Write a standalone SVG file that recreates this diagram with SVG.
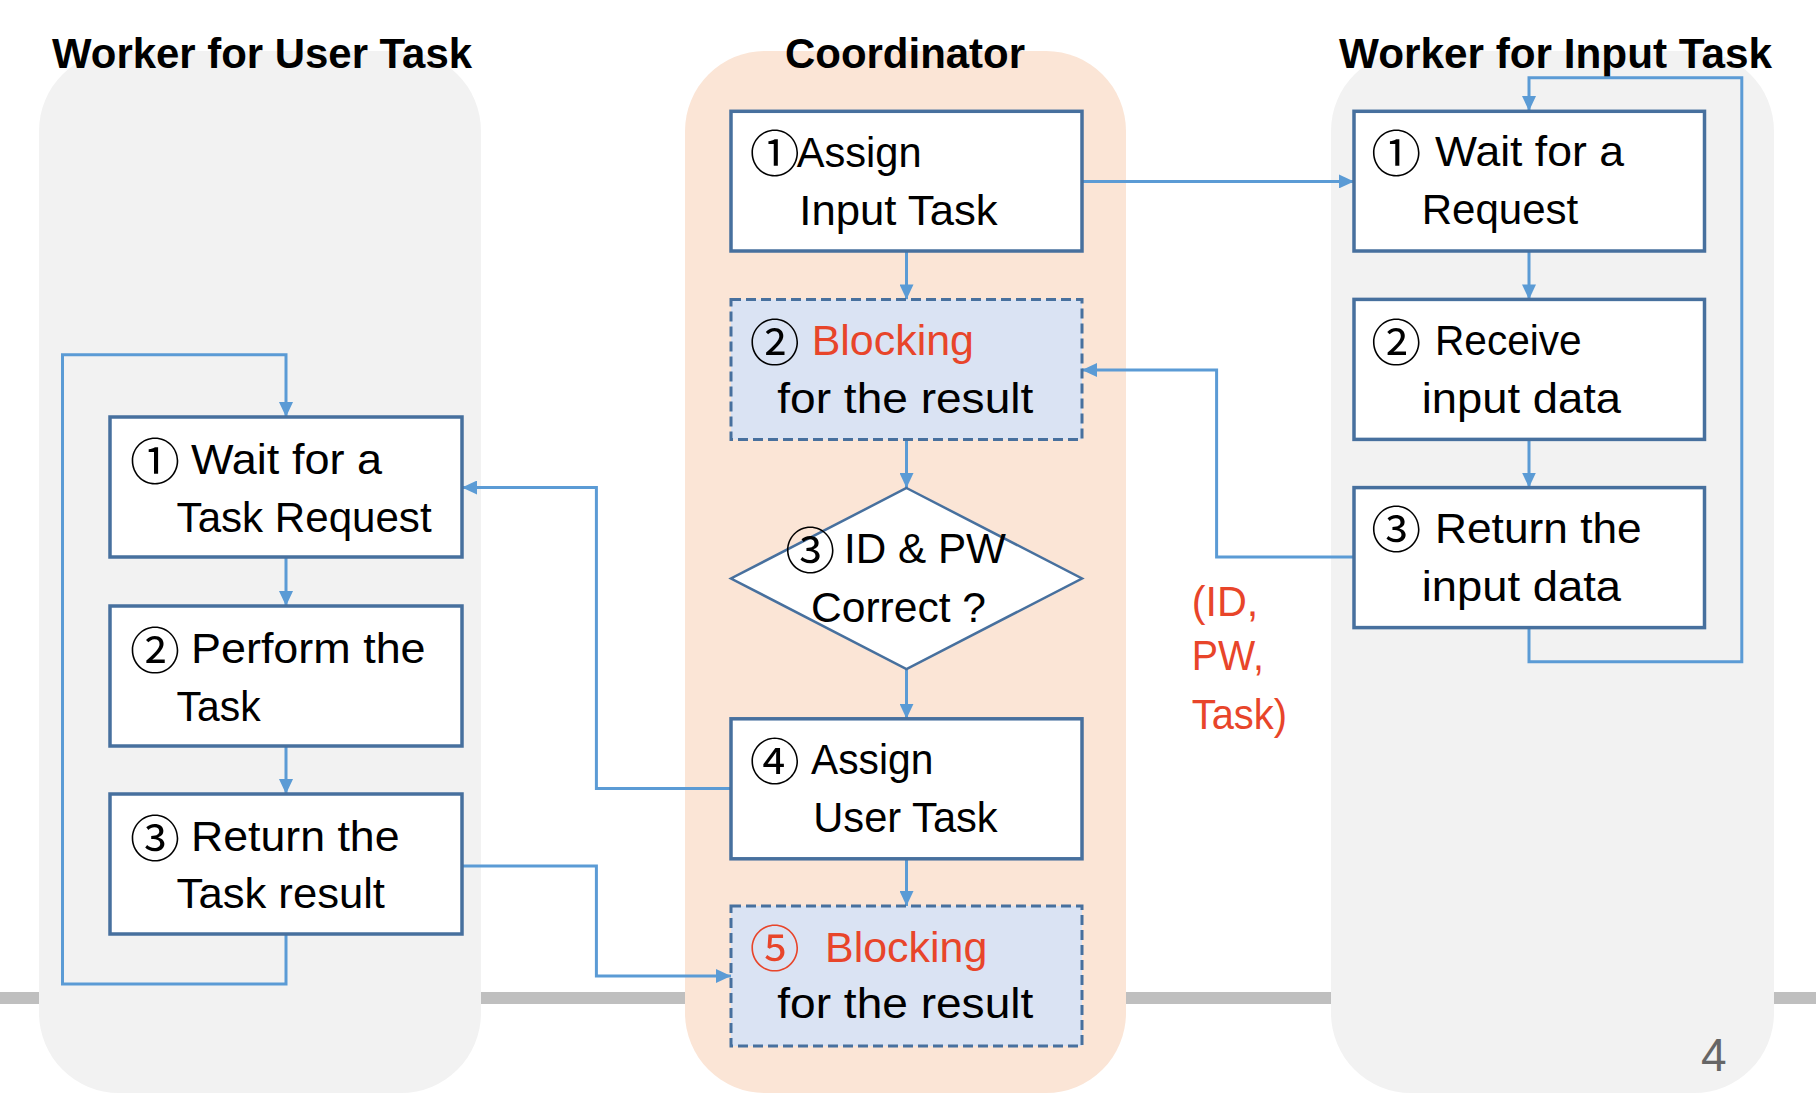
<svg xmlns="http://www.w3.org/2000/svg" width="1816" height="1098" viewBox="0 0 1816 1098">
<defs>
<style>
.panel-g{fill:#f2f2f2}
.panel-o{fill:#fbe5d6}
.box{fill:#ffffff;stroke:#47709e;stroke-width:3.5}
.dbox{fill:#dae3f3;stroke:#47709e;stroke-width:3;stroke-dasharray:10 5}
.dia{fill:#ffffff;stroke:#47709e;stroke-width:2.5}
.t{font-family:"Liberation Sans",Arial,sans-serif;font-size:42px;fill:#000000}
.num{font-family:"Noto Sans CJK JP","DejaVu Sans",sans-serif;font-size:50px;fill:#000000}
.title{font-family:"Liberation Sans",Arial,sans-serif;font-size:42px;font-weight:bold;fill:#000000}
.t.red,.num.red{fill:#e8452a}
.conn{fill:none;stroke:#5b9bd5;stroke-width:3}
</style>
<marker id="ah" markerUnits="userSpaceOnUse" markerWidth="16" markerHeight="14" refX="15" refY="7" orient="auto">
<path d="M0,0 L15,7 L0,14 z" fill="#5b9bd5"/>
</marker>
</defs>
<rect x="0" y="0" width="1816" height="1098" fill="#ffffff"/>
<rect x="0" y="992" width="1816" height="12" fill="#bfbfbf"/>
<g id="panels">
<rect id="panel-user" class="panel-g" x="39" y="51" width="442" height="1042" rx="80" ry="80"/>
<rect id="panel-coord" class="panel-o" x="685" y="51" width="441" height="1042" rx="80" ry="80"/>
<rect id="panel-input" class="panel-g" x="1331" y="51" width="443" height="1042" rx="80" ry="80"/>
</g>
<g id="titles">
<text class="title" x="52" y="67.6" textLength="420" lengthAdjust="spacingAndGlyphs">Worker for User Task</text>
<text class="title" x="785" y="67.6" textLength="240" lengthAdjust="spacingAndGlyphs">Coordinator</text>
<text class="title" x="1339" y="67.6" textLength="433" lengthAdjust="spacingAndGlyphs">Worker for Input Task</text>
</g>
<g id="connectors">
<path class="conn" d="M286,557 L286,606" marker-end="url(#ah)"/>
<path class="conn" d="M286,746 L286,794" marker-end="url(#ah)"/>
<path class="conn" d="M286,934 L286,984 L62.5,984 L62.5,354.7 L286,354.7 L286,417" marker-end="url(#ah)"/>
<path class="conn" d="M731,788.5 L596.4,788.5 L596.4,487.5 L462,487.5" marker-end="url(#ah)"/>
<path class="conn" d="M462,866 L596.4,866 L596.4,976 L731,976" marker-end="url(#ah)"/>
<path class="conn" d="M906.5,251 L906.5,299.4" marker-end="url(#ah)"/>
<path class="conn" d="M906.5,439.4 L906.5,488" marker-end="url(#ah)"/>
<path class="conn" d="M906.5,669 L906.5,718.8" marker-end="url(#ah)"/>
<path class="conn" d="M906.5,858.8 L906.5,906" marker-end="url(#ah)"/>
<path class="conn" d="M1082,181.4 L1354,181.4" marker-end="url(#ah)"/>
<path class="conn" d="M1354,557 L1216.6,557 L1216.6,370 L1082,370" marker-end="url(#ah)"/>
<path class="conn" d="M1529,251 L1529,299.4" marker-end="url(#ah)"/>
<path class="conn" d="M1529,439.4 L1529,487.6" marker-end="url(#ah)"/>
<path class="conn" d="M1529,627.6 L1529,661.7 L1741.8,661.7 L1741.8,77.7 L1529,77.7 L1529,111" marker-end="url(#ah)"/>
</g>
<g id="u1">
<rect class="box" x="110" y="417" width="352" height="140"/>
<text class="num" x="130" y="480">①</text>
<text class="t" x="191" y="474.4" textLength="191" lengthAdjust="spacingAndGlyphs">Wait for a</text>
<text class="t" x="176.6" y="532.2" textLength="255" lengthAdjust="spacingAndGlyphs">Task Request</text>
</g>
<g id="u2">
<rect class="box" x="110" y="606" width="352" height="140"/>
<text class="num" x="130" y="668.5">②</text>
<text class="t" x="191" y="662.8" textLength="234.6" lengthAdjust="spacingAndGlyphs">Perform the</text>
<text class="t" x="176.6" y="721.3" textLength="84" lengthAdjust="spacingAndGlyphs">Task</text>
</g>
<g id="u3">
<rect class="box" x="110" y="794" width="352" height="140"/>
<text class="num" x="130" y="856.5">③</text>
<text class="t" x="191" y="850.5" textLength="208.5" lengthAdjust="spacingAndGlyphs">Return the</text>
<text class="t" x="176.6" y="907.9" textLength="208.4" lengthAdjust="spacingAndGlyphs">Task result</text>
</g>
<g id="c1">
<rect class="box" x="731" y="111.3" width="351" height="139.7"/>
<text class="num" x="749.7" y="172.2">①</text>
<text class="t" x="796.7" y="166.7" textLength="125" lengthAdjust="spacingAndGlyphs">Assign</text>
<text class="t" x="799.3" y="225" textLength="198.4" lengthAdjust="spacingAndGlyphs">Input Task</text>
</g>
<g id="c2">
<rect class="dbox" x="731" y="299.4" width="351" height="140"/>
<text class="num" x="749.7" y="360.5">②</text>
<text class="t red" x="811.7" y="355" textLength="162.3" lengthAdjust="spacingAndGlyphs">Blocking</text>
<text class="t" x="777.3" y="413.3" textLength="256" lengthAdjust="spacingAndGlyphs">for the result</text>
</g>
<g id="c3">
<polygon class="dia" points="906.5,488 1082,578.5 906.5,669 731,578.5"/>
<text class="num" x="785.3" y="568.8">③</text>
<text class="t" x="844" y="563.3" textLength="162" lengthAdjust="spacingAndGlyphs">ID &amp; PW</text>
<text class="t" x="811" y="621.7" textLength="175" lengthAdjust="spacingAndGlyphs">Correct ?</text>
</g>
<g id="c4">
<rect class="box" x="731" y="718.8" width="351" height="140"/>
<text class="num" x="749.7" y="779.5">④</text>
<text class="t" x="811" y="774" textLength="122.3" lengthAdjust="spacingAndGlyphs">Assign</text>
<text class="t" x="813.3" y="831.7" textLength="184.4" lengthAdjust="spacingAndGlyphs">User Task</text>
</g>
<g id="c5">
<rect class="dbox" x="731" y="906" width="351" height="140"/>
<text class="num red" x="749.7" y="967.2">⑤</text>
<text class="t red" x="825" y="961.7" textLength="162.3" lengthAdjust="spacingAndGlyphs">Blocking</text>
<text class="t" x="777.3" y="1018.3" textLength="256" lengthAdjust="spacingAndGlyphs">for the result</text>
</g>
<g id="i1">
<rect class="box" x="1354" y="111.3" width="350.5" height="139.7"/>
<text class="num" x="1371.3" y="171.5">①</text>
<text class="t" x="1435" y="166" textLength="189" lengthAdjust="spacingAndGlyphs">Wait for a</text>
<text class="t" x="1421.7" y="224" textLength="156.6" lengthAdjust="spacingAndGlyphs">Request</text>
</g>
<g id="i2">
<rect class="box" x="1354" y="299.4" width="350.5" height="140"/>
<text class="num" x="1371.3" y="360.5">②</text>
<text class="t" x="1435" y="355" textLength="146.7" lengthAdjust="spacingAndGlyphs">Receive</text>
<text class="t" x="1421.7" y="413.4" textLength="199.3" lengthAdjust="spacingAndGlyphs">input data</text>
</g>
<g id="i3">
<rect class="box" x="1354" y="487.6" width="350.5" height="140"/>
<text class="num" x="1371.3" y="548">③</text>
<text class="t" x="1435" y="542.5" textLength="206.7" lengthAdjust="spacingAndGlyphs">Return the</text>
<text class="t" x="1421.7" y="601" textLength="199.3" lengthAdjust="spacingAndGlyphs">input data</text>
</g>
<g id="data-label">
<text class="t red" x="1191.7" y="615.5" textLength="66.6" lengthAdjust="spacingAndGlyphs">(ID,</text>
<text class="t red" x="1191.7" y="669.8" textLength="72.3" lengthAdjust="spacingAndGlyphs">PW,</text>
<text class="t red" x="1191.7" y="729.3" textLength="95.3" lengthAdjust="spacingAndGlyphs">Task)</text>
</g>
<text x="1701" y="1070.7" font-family="Liberation Sans, Arial, sans-serif" font-size="46" fill="#666666">4</text>
</svg>
